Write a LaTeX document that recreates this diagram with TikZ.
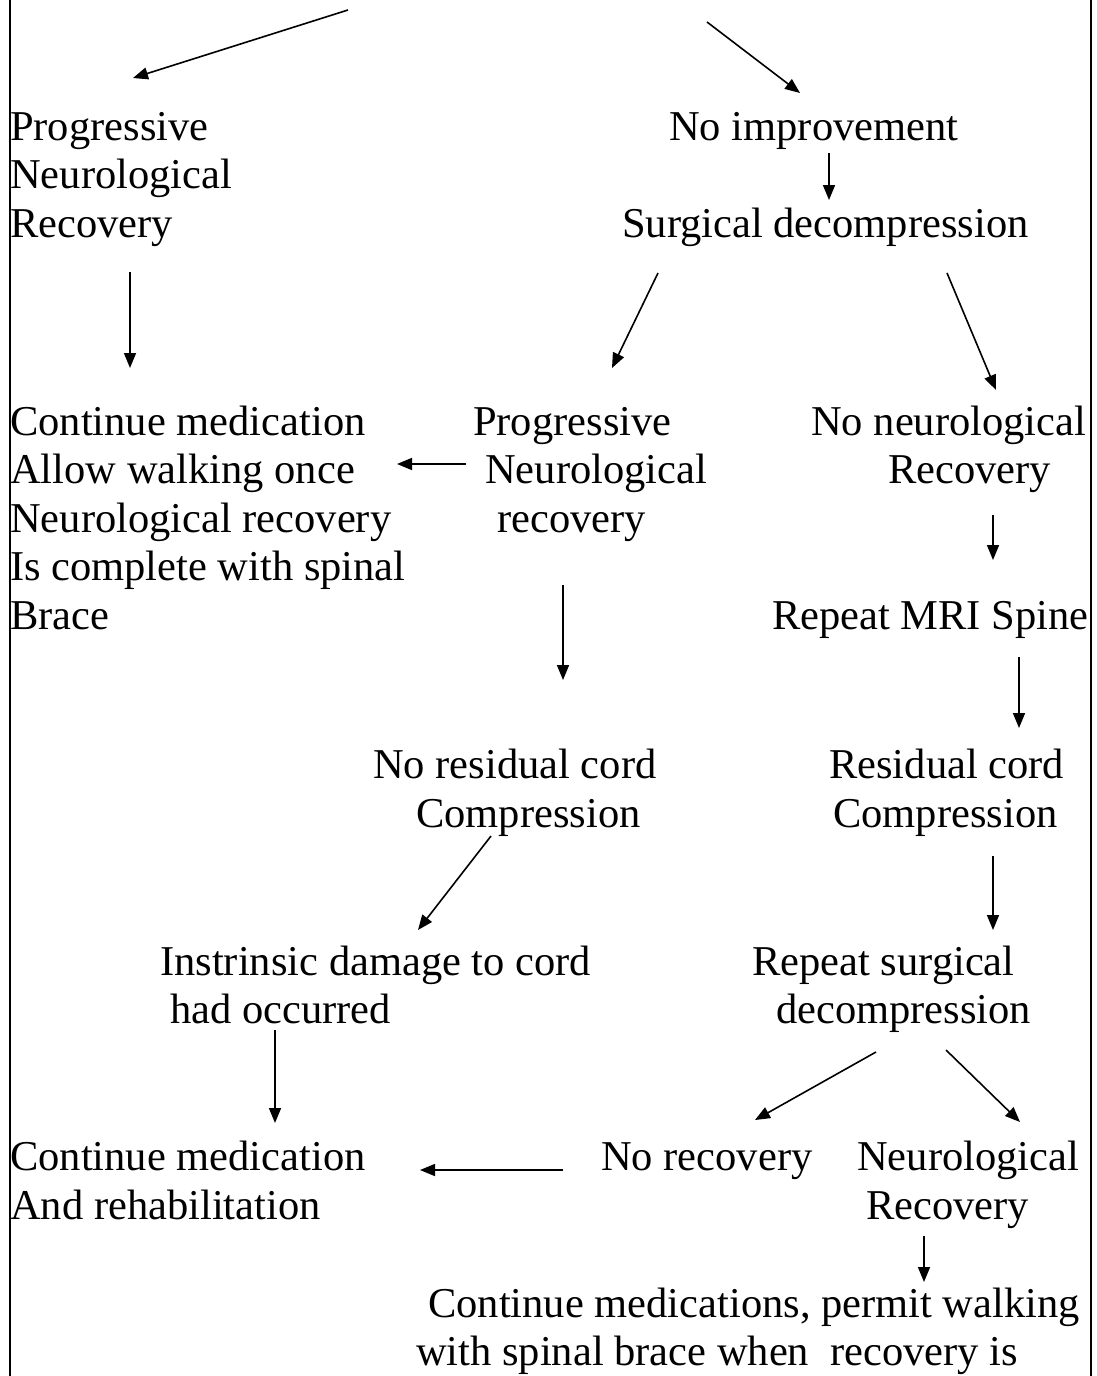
\documentclass[tikz,border=0pt]{standalone}
\usepackage{fontspec}
\setmainfont{Liberation Serif}
\usetikzlibrary{arrows.meta}
\tikzset{
  txt/.style={anchor=base west, inner sep=0pt, font=\fontsize{42.5}{48}\selectfont},
  arr/.style={line width=1.6pt, -{Triangle[length=15pt,width=12pt]}},
  border/.style={line width=1.8pt}
}
\begin{document}
\begin{tikzpicture}[x=1pt,y=-1pt]
\useasboundingbox (0,0) rectangle (1097,1376);
% frame sides
\coordinate (bl1) at (10,0); \coordinate (bl2) at (10,1376);
\coordinate (br1) at (1091,0); \coordinate (br2) at (1091,1376);
\draw[border] (bl1) -- (bl2);
\draw[border] (br1) -- (br2);
% texts
\node[txt] (pA1) at (10,140) {Progressive};
\node[txt] (pA2) at (10,188) {Neurological};
\node[txt] (pA3) at (10,237) {Recovery};
\node[txt] (nI) at (669,140) {No improvement};
\node[txt] (sD) at (622,237) {Surgical decompression};
\node[txt] (cA1) at (10,435) {Continue medication};
\node[txt] (cA2) at (10,483) {Allow walking once};
\node[txt] (cA3) at (10,532) {Neurological recovery};
\node[txt] (cA4) at (10,580) {Is complete with spinal};
\node[txt] (cA5) at (10,629) {Brace};
\node[txt] (pB1) at (473,435) {Progressive};
\node[txt] (pB2) at (485,483) {Neurological};
\node[txt] (pB3) at (497,532) {recovery};
\node[txt] (nN1) at (811,435) {No neurological};
\node[txt] (nN2) at (888,483) {Recovery};
\node[txt] (rM) at (772,629) {Repeat MRI Spine};
\node[txt] (nR1) at (373,778) {No residual cord};
\node[txt] (nR2) at (416,827) {Compression};
\node[txt] (rC1) at (829,778) {Residual cord};
\node[txt] (rC2) at (833,827) {Compression};
\node[txt] (iD1) at (160,975) {Instrinsic damage to cord};
\node[txt] (iD2) at (170,1023) {had occurred};
\node[txt] (rS1) at (752,975) {Repeat surgical};
\node[txt] (rS2) at (776,1023) {decompression};
\node[txt] (cB1) at (10,1170) {Continue medication};
\node[txt] (cB2) at (10,1219) {And rehabilitation};
\node[txt] (nRc) at (601,1170) {No recovery};
\node[txt] (nL1) at (857,1170) {Neurological};
\node[txt] (nL2) at (866,1219) {Recovery};
\node[txt] (cM1) at (428,1317) {Continue medications, permit walking};
\node[txt] (cM2) at (416,1365) {with spinal brace when\ \ recovery is};
% arrow end points
\coordinate (a1s) at (348,10);  \coordinate (a1e) at (133,78);
\coordinate (a2s) at (707,22);  \coordinate (a2e) at (800,93);
\coordinate (a3s) at (829,153); \coordinate (a3e) at (829,200);
\coordinate (a4s) at (130,272); \coordinate (a4e) at (130,368);
\coordinate (a5s) at (658,273); \coordinate (a5e) at (612,368);
\coordinate (a6s) at (947,273); \coordinate (a6e) at (996,390);
\coordinate (a7s) at (466,464); \coordinate (a7e) at (397,464);
\coordinate (a8s) at (993,515); \coordinate (a8e) at (993,560);
\coordinate (a9s) at (1019,657); \coordinate (a9e) at (1019,728);
\coordinate (a10s) at (563,585); \coordinate (a10e) at (563,680);
\coordinate (a11s) at (491,836); \coordinate (a11e) at (418,930);
\coordinate (a12s) at (993,856); \coordinate (a12e) at (993,930);
\coordinate (a13s) at (275,1030); \coordinate (a13e) at (275,1123);
\coordinate (a14s) at (876,1052); \coordinate (a14e) at (755,1120);
\coordinate (a15s) at (946,1050); \coordinate (a15e) at (1020,1122);
\coordinate (a16s) at (563,1170); \coordinate (a16e) at (420,1170);
\coordinate (a17s) at (924,1236); \coordinate (a17e) at (924,1282);
\foreach \i in {1,...,17} { \draw[arr] (a\i s) -- (a\i e); }
\end{tikzpicture}
\end{document}
